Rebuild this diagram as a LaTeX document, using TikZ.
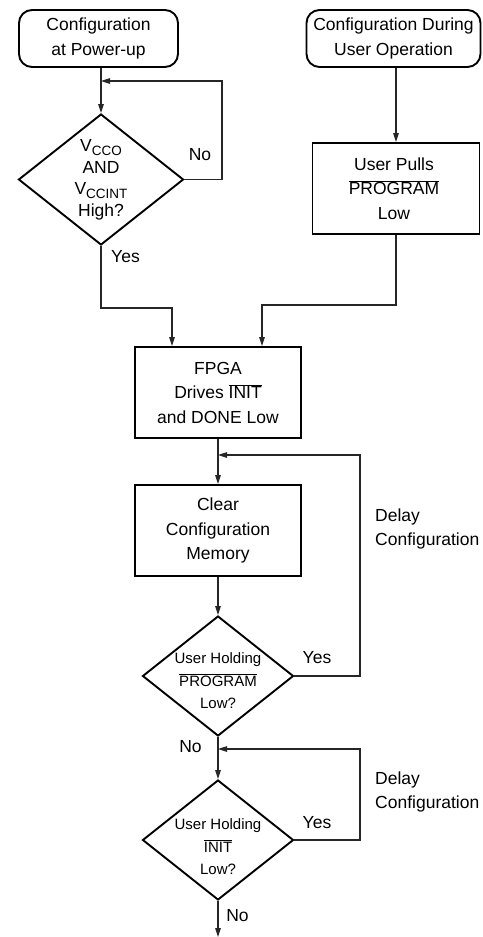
\documentclass[tikz,border=0pt]{standalone}
\usepackage{fontspec}
\setmainfont{Liberation Sans}
\usetikzlibrary{shapes.geometric,arrows.meta,calc}
\newcommand{\ovl}[1]{$\overline{\mbox{#1}}$}
\newcommand{\lowsub}[1]{\raisebox{-4pt}{\fontsize{13.5}{14}\selectfont #1}}
\begin{document}
\begin{tikzpicture}[x=1pt,y=-1pt,
  every node/.style={inner sep=0pt},
  txt/.style={align=center,font=\fontsize{17.5}{24.5}\selectfont},
  small/.style={align=center,font=\fontsize{15}{22.5}\selectfont},
  lbl/.style={font=\fontsize{17.5}{24}\selectfont},
  terminal/.style={draw,line width=1.9pt,rounded corners=13pt,minimum width=#1,minimum height=57pt},
  procbox/.style={draw,line width=1.9pt,minimum width=166pt,minimum height=91pt},
  dia/.style={draw,diamond,line width=1.9pt,minimum width=#1},
  flow/.style={line width=1.1pt,draw=black!85,-{Triangle[length=9pt,width=5.5pt]}}]
\useasboundingbox (0,0) rectangle (482,937);

% entry points
\node[terminal=159pt] (s1) at (98.5,38.5) {};
\node[txt] (s1t) at (s1) {Configuration\\at Power-up};
\node[terminal=174pt] (s2) at (393.5,38.5) {};
\node[txt] (s2t) at (s2) {Configuration During\\User Operation};

% power-up check
\node[dia=165pt,minimum height=131pt] (d1) at (101,179.5) {};
\node[txt,font=\fontsize{17.5}{21.5}\selectfont] (d1t) at (101,180) {V\lowsub{CCO}\\AND\\V\lowsub{CCINT}\\High?};

% user pulls PROGRAM
\node[procbox,minimum width=167pt] (up) at (396,188.5) {};
\node[txt] (upt) at (394,188.5) {User Pulls\\\ovl{PROGRAM}\\Low};

% main sequence
\node[procbox] (fpga) at (218,392.5) {};
\node[txt] (fpgat) at (fpga) {FPGA\\Drives \ovl{INIT}\\and DONE Low};
\node[procbox] (clr) at (218,530.5) {};
\node[txt] (clrt) at (clr) {Clear\\Configuration\\Memory};

\node[dia=151pt,minimum height=120pt] (d2) at (218,676) {};
\node[small] (d2t) at (218,681) {User Holding\\\ovl{PROGRAM}\\Low?};
\node[dia=151pt,minimum height=120pt] (d3) at (218,840) {};
\node[small] (d3t) at (218,847) {User Holding\\\ovl{INIT}\\Low?};

% junction points
\coordinate (j1) at (101,81);
\coordinate (n1) at (222,81);
\coordinate (m1) at (101,308);
\coordinate (m2) at (396,305);
\coordinate (j2) at (218,455);
\coordinate (n2) at (360,455);
\coordinate (j3) at (218,749);
\coordinate (n3) at (360,749);
\coordinate (e1) at (218,937);

% connectors
\draw[flow] (d1.north |- s1.south) -- (d1.north);
\draw[flow] (d1.east) -| (n1) -- (j1);
\draw[flow] (d1.south) -- (m1) -| ([xshift=-46pt]fpga.north);
\draw[flow] (up.north |- s2.south) -- (up.north);
\draw[flow] (up.south) -- (m2) -| ([xshift=44pt]fpga.north);
\draw[flow] (fpga.south) -- (clr.north);
\draw[flow] (clr.south) -- (d2.north);
\draw[flow] (d2.east) -| (n2) -- (j2);
\draw[flow] (d2.south) -- (d3.north);
\draw[flow] (d3.east) -| (n3) -- (j3);
\draw[flow] (d3.south) -- (e1);

% branch labels
\node[lbl] (no1) at (200,155) {No};
\node[lbl] (yes1) at (125.5,257) {Yes};
\node[lbl] (yes2) at (317,658) {Yes};
\node[lbl] (no2) at (190.5,747) {No};
\node[lbl] (yes3) at (317,823) {Yes};
\node[lbl] (no3) at (237.5,916) {No};
\node[lbl,align=left,anchor=west] (dl1) at (375,529) {Delay\\Configuration};
\node[lbl,align=left,anchor=west] (dl2) at (375,792) {Delay\\Configuration};
\end{tikzpicture}
\end{document}
